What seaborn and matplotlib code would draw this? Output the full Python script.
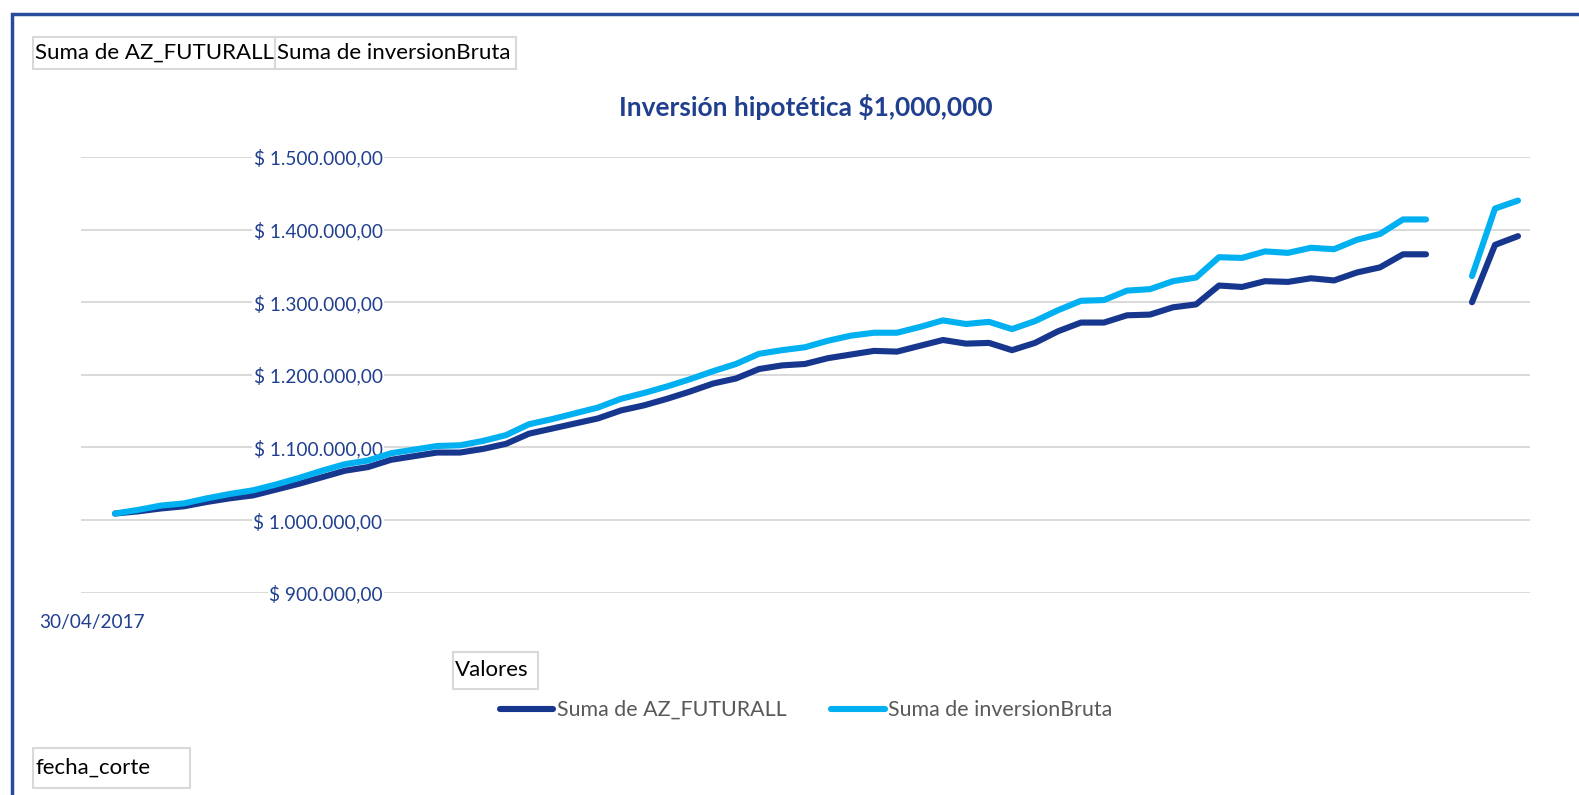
import matplotlib
matplotlib.use("Agg")
import matplotlib.pyplot as plt
from matplotlib.patches import Rectangle
import numpy as np
import pandas as pd
import seaborn as sns

# categorias del eje (fin de mes); solo se ve la primera etiqueta
fechas = pd.date_range("2017-04-30", periods=63, freq="ME").strftime("%d/%m/%Y").tolist()

# la primera fecha no tiene valor y hay un hueco antes de los tres ultimos meses
az_futurall = [
    np.nan,
    1009000, 1012000, 1016000, 1019000, 1025000, 1030000, 1034000, 1042000, 1050000, 1059000,
    1068000, 1073000, 1083000, 1088000, 1093000, 1093000, 1098000, 1105000, 1119000, 1126000,
    1133000, 1140000, 1151000, 1158000, 1167000, 1177000, 1188000, 1195000, 1208000, 1213000,
    1215000, 1223000, 1228000, 1233000, 1232000, 1240000, 1248000, 1243000, 1244000, 1234000,
    1244000, 1260000, 1272000, 1272000, 1282000, 1283000, 1293000, 1297000, 1323000, 1321000,
    1329000, 1328000, 1333000, 1330000, 1341000, 1348000, 1366000, 1366000,
    np.nan, 1300000, 1379000, 1391000,
]
inversion_bruta = [
    np.nan,
    1009000, 1014000, 1020000, 1023000, 1030000, 1036000, 1041000, 1049000, 1058000, 1068000,
    1077000, 1082000, 1092000, 1097000, 1102000, 1103000, 1109000, 1117000, 1132000, 1139000,
    1147000, 1155000, 1167000, 1175000, 1184000, 1194000, 1205000, 1215000, 1229000, 1234000,
    1238000, 1247000, 1254000, 1258000, 1258000, 1266000, 1275000, 1270000, 1273000, 1263000,
    1274000, 1289000, 1302000, 1303000, 1316000, 1318000, 1329000, 1334000, 1362000, 1361000,
    1370000, 1368000, 1375000, 1373000, 1386000, 1394000, 1414000, 1414000,
    np.nan, 1336000, 1429000, 1440000,
]
series = ["Suma de AZ_FUTURALL", "Suma de inversionBruta"]
colores = ["#17368D", "#00B0F0"]
y_ticks = [900000, 1000000, 1100000, 1200000, 1300000, 1400000, 1500000]

AZUL = "#203F8F"
W, H = 1579, 795


def fx(px):
    return px / W


def fy(py):
    return 1 - py / H


def etiqueta_moneda(v):
    s = f"{v:,.2f}".replace(",", "X").replace(".", ",").replace("X", ".")
    return "$ " + s


df = pd.DataFrame({"pos": range(len(fechas)), "fecha": fechas,
                   series[0]: az_futurall, series[1]: inversion_bruta})
# tramo: separa la linea donde falta un mes
df["tramo"] = df[series].isna().any(axis=1).cumsum()
largo = df.melt(id_vars=["pos", "fecha", "tramo"], value_vars=series,
                var_name="serie", value_name="valor").dropna()

sns.set_style("white")
plt.rcParams["font.family"] = ["Lato", "DejaVu Sans"]

fig = plt.figure(figsize=(W / 100, H / 100), dpi=100)
ax = fig.add_axes([fx(80.5), fy(592.7), fx(1529.5) - fx(80.5), fy(157) - fy(592.7)])

sns.lineplot(data=largo, x="pos", y="valor", hue="serie", hue_order=series,
             palette=colores, units="tramo", estimator=None, linewidth=4.4,
             solid_capstyle="round", ax=ax, legend=True)

ax.set_xlim(-0.5, len(fechas) - 0.5)
ax.set_ylim(y_ticks[0], y_ticks[-1])
ax.set_yticks(y_ticks)
ax.set_yticklabels([etiqueta_moneda(v) for v in y_ticks])
ax.set_xticks([0])
ax.set_xticklabels([fechas[0]])
ax.set_xlabel("")
ax.set_ylabel("")
ax.grid(axis="y", color="#D9D9D9", linewidth=1.4)
ax.set_axisbelow(True)
for s in ax.spines.values():
    s.set_visible(False)
ax.tick_params(axis="y", length=0, pad=-(382.6 - 80.5) * 0.72, labelsize=13.7, labelcolor=AZUL)
ax.tick_params(axis="x", length=0, pad=15, labelsize=13.7, labelcolor=AZUL)
for t in ax.get_yticklabels():
    t.set_bbox(dict(facecolor="white", edgecolor="none", pad=1))

# leyenda abajo
handles, labels = ax.get_legend_handles_labels()
ax.get_legend().remove()
leg = fig.legend(handles, labels, loc="center", bbox_to_anchor=(fx(806), fy(710)),
                 ncol=2, frameon=False, fontsize=15.4, handlelength=2.5,
                 handletextpad=0.15, columnspacing=2.1)
for t in leg.get_texts():
    t.set_color("#595959")
for h in leg.get_lines():
    h.set_linewidth(4.4)
    h.set_solid_capstyle("round")

fig.text(fx(806), fy(107), "Inversión hipotética $1,000,000", ha="center", va="center",
         fontsize=19, fontweight="bold", color=AZUL)


def boton(x0, y0, x1, y1, texto):
    fig.add_artist(Rectangle((fx(x0), fy(y1)), fx(x1) - fx(x0), fy(y0) - fy(y1),
                             transform=fig.transFigure, facecolor="white",
                             edgecolor="#D9D9D9", linewidth=1.5))
    fig.text(fx(x0 + 2), fy((y0 + y1) / 2), texto, ha="left", va="center",
             fontsize=16, color="black")


boton(33.2, 37.3, 274.9, 68.5, "Suma de AZ_FUTURALL")
boton(274.9, 37.3, 515.6, 68.5, "Suma de inversionBruta")
boton(453, 651.5, 537.8, 688.8, "Valores")
boton(33.2, 748, 190.3, 787.5, "fecha_corte")

# marco azul del grafico (solo se ven arriba y a la izquierda)
fig.add_artist(Rectangle((fx(12), -0.1), 1.2, fy(14) + 0.1, transform=fig.transFigure,
                         facecolor="none", edgecolor="#2A4B9B", linewidth=2.5))

fig.savefig("out.png", dpi=100)
